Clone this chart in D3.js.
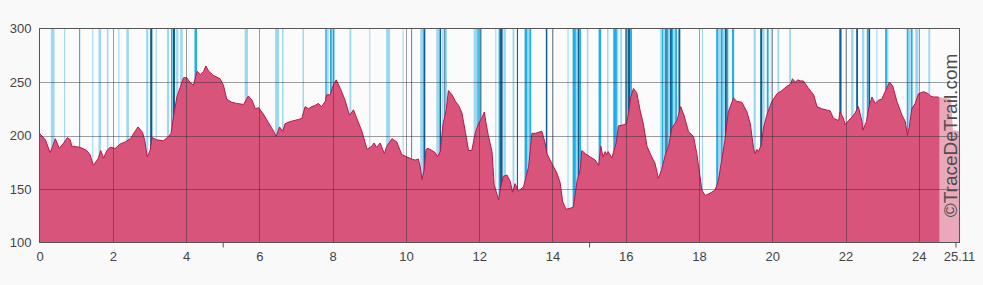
<!DOCTYPE html>
<head>
  <meta charset="utf-8" />
  <script src="https://d3js.org/d3.v7.min.js"></script>
  <style>
    body {
      margin: 0;
      background: #f9f9f9;
      font-family: "Liberation Sans", Arial, sans-serif;
    }
    .axis text {
      font-size: 13px;
      fill: #444;
    }
  </style>
</head>

<body>
  <script>
    // profile: distance (km) / elevation (m)
    var km = [0.00, 0.16, 0.29, 0.36, 0.43, 0.54, 0.66, 0.76, 0.84, 0.88, 1.11, 1.29, 1.38, 1.47, 1.61, 1.67, 1.75, 1.84, 1.93, 2.07,
      2.20, 2.34, 2.48, 2.61, 2.69, 2.81, 2.87, 2.94, 3.02, 3.07, 3.20, 3.38, 3.52, 3.59, 3.66, 3.75, 3.84, 3.93, 4.02, 4.10,
      4.20, 4.30, 4.39, 4.48, 4.54, 4.62, 4.75, 4.93, 5.02, 5.11, 5.25, 5.38, 5.57, 5.70, 5.80, 5.89, 5.98, 6.11, 6.25, 6.39,
      6.46, 6.55, 6.64, 6.70, 6.84, 7.07, 7.16, 7.25, 7.34, 7.43, 7.52, 7.61, 7.70, 7.80, 7.84, 7.93, 8.02, 8.10, 8.21, 8.34,
      8.46, 8.57, 8.66, 8.80, 8.94, 9.07, 9.13, 9.20, 9.30, 9.41, 9.48, 9.62, 9.75, 9.89, 10.03, 10.16, 10.25, 10.34, 10.39, 10.44,
      10.50, 10.55, 10.60, 10.71, 10.80, 10.86, 10.94, 11.01, 11.10, 11.16, 11.26, 11.35, 11.44, 11.53, 11.62, 11.71, 11.80, 11.89, 11.98, 12.07,
      12.14, 12.19, 12.25, 12.35, 12.41, 12.53, 12.59, 12.66, 12.76, 12.85, 12.91, 12.98, 13.07, 13.21, 13.35, 13.44, 13.53, 13.71, 13.80, 13.85,
      13.98, 14.12, 14.21, 14.28, 14.37, 14.48, 14.57, 14.67, 14.76, 14.80, 14.90, 15.03, 15.17, 15.26, 15.32, 15.38, 15.44, 15.48, 15.52, 15.62,
      15.74, 15.80, 15.94, 16.02, 16.08, 16.14, 16.21, 16.30, 16.39, 16.48, 16.58, 16.71, 16.80, 16.89, 16.98, 17.08, 17.17, 17.26, 17.40, 17.50,
      17.59, 17.71, 17.85, 17.94, 18.08, 18.17, 18.30, 18.44, 18.53, 18.62, 18.71, 18.80, 18.94, 19.03, 19.17, 19.31, 19.40, 19.49, 19.53, 19.58,
      19.62, 19.70, 19.76, 19.85, 19.99, 20.13, 20.26, 20.40, 20.50, 20.55, 20.63, 20.70, 20.77, 20.85, 20.99, 21.13, 21.22, 21.35, 21.58, 21.67,
      21.81, 21.85, 21.94, 21.99, 22.08, 22.17, 22.26, 22.35, 22.45, 22.47, 22.57, 22.63, 22.72, 22.81, 22.90, 22.99, 23.08, 23.20, 23.29, 23.40,
      23.54, 23.63, 23.69, 23.74, 23.81, 23.90, 23.99, 24.13, 24.26, 24.31, 24.40, 24.53, 24.88, 24.93, 25.11];
    var elev = [202, 196, 184, 190, 197, 188, 193, 198, 196, 190, 189, 186, 182, 172, 179, 186, 179, 186, 189, 188,
      192, 194, 197, 204, 208, 203, 196, 180, 186, 198, 196, 195, 199, 202, 218, 236, 245, 254, 254, 250,
      247, 260, 257, 260, 265, 260, 256, 253, 247, 234, 231, 230, 229, 237, 233, 225, 226, 220, 212, 204,
      199, 208, 204, 211, 213, 215, 216, 227, 225, 227, 228, 230, 227, 232, 238, 238, 247, 252, 244, 233,
      219, 224, 216, 204, 187, 190, 193, 189, 193, 183, 190, 197, 194, 182, 180, 178, 177, 178, 171, 159,
      168, 187, 188, 186, 184, 180, 185, 210, 224, 242, 238, 232, 228, 221, 204, 186, 186, 202, 211, 216,
      222, 211, 200, 185, 154, 140, 152, 162, 163, 157, 147, 155, 148, 152, 171, 202, 202, 204, 193, 183,
      174, 165, 156, 138, 131, 132, 133, 157, 168, 186, 183, 180, 177, 172, 190, 180, 185, 182, 185, 179,
      193, 209, 210, 211, 221, 236, 244, 240, 224, 211, 190, 180, 174, 160, 168, 182, 190, 207, 214, 227,
      219, 204, 199, 183, 149, 144, 146, 149, 158, 177, 196, 222, 235, 232, 231, 222, 211, 188, 183, 187,
      185, 191, 207, 219, 232, 239, 242, 246, 248, 253, 250, 252, 251, 251, 244, 238, 227, 225, 223, 216,
      214, 222, 216, 210, 214, 217, 221, 227, 213, 205, 213, 225, 236, 230, 233, 234, 241, 250, 246, 232,
      219, 213, 200, 208, 225, 230, 239, 241, 239, 237, 236, 236, 234, 205, 204];

    // marked sections: [start km, end km, level 0 light / 1 medium / 2 dark]
    var sections = [
      [0.31, 0.41, 0], [0.67, 0.70, 0], [1.08, 1.11, 1], [1.44, 1.47, 0], [1.61, 1.68, 0], [1.84, 1.88, 0],
      [2.15, 2.18, 0], [2.37, 2.44, 0], [2.91, 2.97, 0], [3.02, 3.08, 2], [3.17, 3.20, 0], [3.48, 3.54, 0],
      [3.59, 3.63, 1], [3.64, 3.70, 2], [3.73, 3.79, 0], [3.84, 3.91, 0], [4.23, 4.30, 1], [5.60, 5.69, 0],
      [6.43, 6.54, 0], [6.62, 6.66, 0], [7.18, 7.22, 0], [7.80, 7.84, 1], [7.85, 7.89, 0], [7.93, 7.98, 1],
      [7.98, 8.07, 0], [8.46, 8.51, 0], [9.00, 9.02, 0], [9.46, 9.57, 0], [9.91, 9.93, 0], [10.14, 10.17, 1],
      [10.39, 10.48, 0], [10.48, 10.53, 2], [10.83, 10.92, 0], [10.92, 10.96, 2], [10.99, 11.03, 0], [11.05, 11.08, 2],
      [11.09, 11.12, 0], [11.85, 11.95, 0], [11.95, 11.99, 1], [12.03, 12.06, 2], [12.44, 12.46, 0], [12.53, 12.57, 1],
      [12.57, 12.64, 2], [12.66, 12.73, 0], [12.91, 12.96, 0], [13.03, 13.06, 2], [13.24, 13.32, 1], [13.32, 13.37, 0],
      [13.37, 13.42, 1], [13.82, 13.86, 2], [14.00, 14.04, 0], [14.41, 14.44, 0], [14.55, 14.64, 1], [14.64, 14.69, 0],
      [14.69, 14.74, 2], [14.74, 14.78, 1], [14.94, 14.98, 0], [15.26, 15.33, 1], [15.49, 15.53, 0], [15.66, 15.76, 1],
      [15.76, 15.80, 0], [15.85, 15.90, 0], [15.98, 16.03, 1], [16.05, 16.12, 2], [16.12, 16.17, 1], [16.94, 16.99, 0],
      [16.99, 17.03, 1], [17.03, 17.08, 0], [17.08, 17.12, 2], [17.12, 17.17, 1], [17.17, 17.21, 0], [17.21, 17.26, 2],
      [17.26, 17.30, 1], [17.30, 17.35, 0], [17.35, 17.40, 1], [17.44, 17.49, 2], [18.08, 18.11, 0], [18.47, 18.53, 1],
      [18.53, 18.60, 0], [18.60, 18.65, 1], [18.65, 18.71, 0], [18.71, 18.76, 2], [18.76, 18.80, 1], [18.90, 18.96, 1],
      [19.49, 19.55, 0], [19.67, 19.73, 2], [19.73, 19.79, 0], [19.85, 19.90, 1], [19.96, 20.00, 0], [20.14, 20.19, 0],
      [20.46, 20.51, 0], [21.83, 21.89, 2], [21.99, 22.02, 0], [22.15, 22.22, 0], [22.29, 22.34, 2], [22.45, 22.51, 0],
      [22.58, 22.63, 1], [22.63, 22.67, 2], [22.84, 22.87, 0], [23.08, 23.13, 1], [23.13, 23.17, 0], [23.67, 23.72, 1],
      [23.72, 23.77, 0], [23.78, 23.83, 1], [23.90, 23.99, 0], [24.26, 24.31, 0]
    ];

    var xTicks = [0, 2, 4, 6, 8, 10, 12, 14, 16, 18, 20, 22, 24];
    var xMinor = [5, 15, 25];
    var yTicks = [100, 150, 200, 250, 300];
    var totalKm = 25.11;
    var doneKm = 24.56;

    var width = 983,
      height = 285;
    var pLeft = 39.5, pRight = 959.5, pTop = 28.5, pBottom = 242.5;

    var svg = d3
      .select("body")
      .append("svg")
      .attr("width", width)
      .attr("height", height);

    var x = d3.scaleLinear().domain([0, totalKm]).range([pLeft, pRight]);
    var y = d3.scaleLinear().domain([100, 300]).range([pBottom, pTop]);
    var color = d3.scaleOrdinal().domain([0, 1, 2]).range(["#9dd8f1", "#22ade4", "#0d5e92"]);

    var profile = km.map(function (d, i) {
      return { km: d, ele: elev[i] };
    });

    svg.append("rect")
      .attr("x", pLeft).attr("y", pTop)
      .attr("width", pRight - pLeft).attr("height", pBottom - pTop)
      .attr("fill", "#fbfbfb");

    // blue sections behind profile
    svg.append("g")
      .selectAll("rect")
      .data(sections)
      .join("rect")
      .attr("x", (d) => x(d[0]))
      .attr("y", pTop)
      .attr("width", (d) => Math.max(1, x(d[1]) - x(d[0])))
      .attr("height", pBottom - pTop)
      .attr("fill", (d) => color(d[2]));

    var area = d3.area()
      .x((d) => x(d.km))
      .y0(y(100))
      .y1((d) => y(d.ele));
    var line = d3.line()
      .x((d) => x(d.km))
      .y((d) => y(d.ele));

    svg.append("path")
      .datum(profile)
      .attr("d", area)
      .attr("fill", "#d9547b");
    svg.append("path")
      .datum(profile.filter((d) => d.km <= doneKm + 0.01))
      .attr("d", line)
      .attr("fill", "none")
      .attr("stroke", "#b8174c")
      .attr("stroke-width", 1);

    // remaining part, faded
    svg.append("rect")
      .attr("x", x(doneKm)).attr("y", pTop)
      .attr("width", pRight - x(doneKm)).attr("height", pBottom - pTop)
      .attr("fill", "#fbfbfb")
      .attr("opacity", 0.5);

    // grid
    var grid = svg.append("g").attr("stroke", "rgba(40,40,50,0.45)").attr("stroke-width", 1);
    grid.selectAll(".gx")
      .data(xTicks.slice(1))
      .join("line")
      .attr("x1", (d) => Math.round(x(d)) + 0.5).attr("x2", (d) => Math.round(x(d)) + 0.5)
      .attr("y1", pTop).attr("y2", pBottom);
    grid.selectAll(".gy")
      .data(yTicks.slice(1, -1))
      .join("line")
      .attr("x1", pLeft).attr("x2", pRight)
      .attr("y1", (d) => Math.round(y(d)) + 0.5).attr("y2", (d) => Math.round(y(d)) + 0.5);

    // frame
    svg.append("rect")
      .attr("x", pLeft).attr("y", pTop)
      .attr("width", pRight - pLeft).attr("height", pBottom - pTop)
      .attr("fill", "none")
      .attr("stroke", "#555");

    // watermark
    svg.append("text")
      .attr("transform", "translate(957," + (pTop + pBottom) / 2 + ") rotate(-90)")
      .attr("text-anchor", "middle")
      .attr("font-size", 19)
      .attr("fill", "#4d4d4d")
      .text("\u00a9TraceDeTrail.com");

    // axes
    svg.append("g")
      .attr("class", "axis")
      .attr("transform", "translate(0," + pBottom + ")")
      .call(d3.axisBottom(x).tickValues(xTicks).tickSize(0).tickPadding(9).tickFormat(d3.format("d")))
      .call((g) => g.select(".domain").remove());
    svg.append("g")
      .attr("class", "axis")
      .attr("transform", "translate(0," + pBottom + ")")
      .call(d3.axisBottom(x).tickValues(xMinor).tickSize(5).tickFormat(""))
      .call((g) => g.select(".domain").remove())
      .call((g) => g.selectAll("line").attr("stroke", "#555"));
    svg.append("text")
      .attr("class", "axis")
      .attr("x", x(totalKm))
      .attr("y", pBottom + 9)
      .attr("dy", "0.71em")
      .attr("text-anchor", "middle")
      .attr("font-size", 13)
      .attr("fill", "#444")
      .text("25.11");
    svg.append("g")
      .attr("class", "axis")
      .attr("transform", "translate(" + pLeft + ",0)")
      .call(d3.axisLeft(y).tickValues(yTicks).tickSize(0).tickPadding(8))
      .call((g) => g.select(".domain").remove());
  </script>
</body>
